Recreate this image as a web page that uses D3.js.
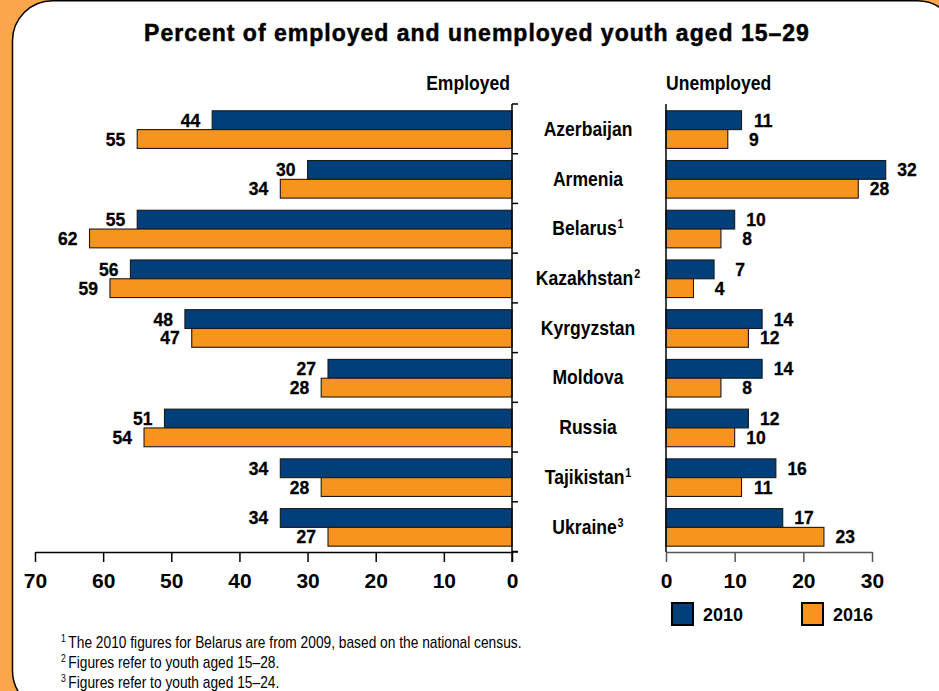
<!DOCTYPE html>
<html>
<head>
<meta charset="utf-8">
<script src="https://cdn.jsdelivr.net/npm/d3@7"></script>
<style>
  html, body { margin: 0; padding: 0; background: #f9a64c; }
  svg { display: block; }
  text { font-family: "Liberation Sans", Arial, Helvetica, sans-serif; fill: #000; }
</style>
</head>
<body>
<svg id="chart" width="939" height="691"></svg>
<script>
// ---------- data ----------
const categories = ["Azerbaijan","Armenia","Belarus","Kazakhstan","Kyrgyzstan","Moldova","Russia","Tajikistan","Ukraine"];
const footMarks = ["","","1","2","","","","1","3"];
const years = ["2010","2016"];
const employed2010 = [44,30,55,56,48,27,51,34,34];
const employed2016 = [55,34,62,59,47,28,54,28,27];
const unemployed2010 = [11,32,10,7,14,14,12,16,17];
const unemployed2016 = [9,28,8,4,12,8,10,11,23];
const leftTicks = [0,10,20,30,40,50,60,70];
const rightTicks = [0,10,20,30];
const titleText = "Percent of employed and unemployed youth aged 15\u201329";
const footnotes = [
  ["1","The 2010 figures for Belarus are from 2009, based on the national census."],
  ["2","Figures refer to youth aged 15\u201328."],
  ["3","Figures refer to youth aged 15\u201324."]
];

const colors = {"2010": "#003f7a", "2016": "#f7941e"};

const svg = d3.select("#chart");

// ---------- panel ----------
svg.append("rect")
  .attr("x", 12.5).attr("y", 0.8)
  .attr("width", 945).attr("height", 710)
  .attr("rx", 40).attr("ry", 40)
  .attr("fill", "#fff").attr("stroke", "#000").attr("stroke-width", 1.5);

// ---------- title ----------
svg.append("text")
  .attr("x", 477).attr("y", 41)
  .attr("text-anchor", "middle")
  .style("font-size", "23px").style("font-weight", "bold")
  .style("letter-spacing", "1px")
  .attr("stroke", "#000").attr("stroke-width", 0.5)
  .text(titleText);

// ---------- scales ----------
const y0 = d3.scaleBand().domain(categories).range([104, 551.5]).padding(0);
const y1 = d3.scaleBand().domain(years).range([6.8, 44.4]).padding(0);
const xL = d3.scaleLinear().domain([0, 70]).range([512, 35]);
const xR = d3.scaleLinear().domain([0, 30]).range([666, 872]);

const rows = categories.map((c, i) => ({
  cat: c, mark: footMarks[i],
  emp: [{year: "2010", v: employed2010[i]}, {year: "2016", v: employed2016[i]}],
  unemp: [{year: "2010", v: unemployed2010[i]}, {year: "2016", v: unemployed2016[i]}]
}));

// ---------- headers ----------
function condensed(g, x, y, sx) {
  return g.append("g").attr("transform", `translate(${x},${y}) scale(${sx},1)`);
}
condensed(svg, 510, 90, 0.9).append("text")
  .attr("text-anchor", "end").style("font-size", "19.5px").style("font-weight", "bold")
  .text("Employed");
condensed(svg, 666, 90, 0.9).append("text")
  .attr("text-anchor", "start").style("font-size", "19.5px").style("font-weight", "bold")
  .text("Unemployed");

// ---------- left (employed) bars ----------
const gL = svg.append("g");
const rowL = gL.selectAll("g.row").data(rows).join("g")
  .attr("transform", d => `translate(0,${y0(d.cat)})`);
rowL.selectAll("rect").data(d => d.emp).join("rect")
  .attr("x", d => xL(d.v)).attr("y", d => y1(d.year))
  .attr("width", d => xL(0) - xL(d.v)).attr("height", y1.bandwidth())
  .attr("fill", d => colors[d.year]).attr("stroke", "#1a1a1a").attr("stroke-width", 1.1);
rowL.selectAll("text").data(d => d.emp).join("text")
  .attr("x", d => xL(d.v) - 12)
  .attr("y", d => y1(d.year) + y1.bandwidth() / 2 + 6.5)
  .attr("text-anchor", "end")
  .style("font-size", "17.5px").style("font-weight", "bold")
  .attr("stroke", "#000").attr("stroke-width", 0.3)
  .text(d => d.v);

// ---------- right (unemployed) bars ----------
const gR = svg.append("g");
const rowR = gR.selectAll("g.row").data(rows).join("g")
  .attr("transform", d => `translate(0,${y0(d.cat)})`);
rowR.selectAll("rect").data(d => d.unemp).join("rect")
  .attr("x", xR(0)).attr("y", d => y1(d.year))
  .attr("width", d => xR(d.v) - xR(0)).attr("height", y1.bandwidth())
  .attr("fill", d => colors[d.year]).attr("stroke", "#1a1a1a").attr("stroke-width", 1.1);
rowR.selectAll("text").data(d => d.unemp).join("text")
  .attr("x", d => xR(d.v) + 31)
  .attr("y", d => y1(d.year) + y1.bandwidth() / 2 + 6.5)
  .attr("text-anchor", "end")
  .style("font-size", "17.5px").style("font-weight", "bold")
  .attr("stroke", "#000").attr("stroke-width", 0.3)
  .text(d => d.v);

// ---------- category labels ----------
rows.forEach(d => {
  const t = condensed(svg, 588, y0(d.cat) + y0.bandwidth() / 2 + 7, 0.9).append("text")
    .attr("text-anchor", "middle").style("font-size", "19.5px").style("font-weight", "bold");
  t.append("tspan").text(d.cat);
  if (d.mark) t.append("tspan").attr("dy", -7).attr("dx", 1).style("font-size", "12px").text(d.mark);
});

// ---------- axes ----------
const axisY = 552;
const axL = svg.append("g").attr("transform", `translate(0,${axisY})`)
  .call(d3.axisBottom(xL).tickValues(leftTicks).tickSize(10).tickSizeOuter(0).tickPadding(11).tickFormat(d3.format("d")));
axL.select(".domain").attr("stroke", "#000").attr("stroke-width", 1.5);
axL.selectAll(".tick line").attr("stroke", "#000").attr("stroke-width", 1.5);
axL.selectAll(".tick text").style("font-size", "21px").style("font-weight", "bold").attr("fill", "#000")
  .style("font-family", "'Liberation Sans', Arial, sans-serif");
// extension of baseline past zero + vertical category axis
svg.append("line").attr("x1", xL(0)).attr("x2", xL(0) + 6).attr("y1", axisY).attr("y2", axisY)
  .attr("stroke", "#000").attr("stroke-width", 1.5);
svg.append("line").attr("x1", xL(0)).attr("x2", xL(0)).attr("y1", y0.range()[0]).attr("y2", axisY + 10)
  .attr("stroke", "#000").attr("stroke-width", 1.5);
const sepYs = categories.map(c => y0(c)).concat([y0.range()[1]]);
svg.selectAll("line.sep").data(sepYs).join("line").attr("class", "sep")
  .attr("x1", xL(0)).attr("x2", xL(0) + 6).attr("y1", d => d).attr("y2", d => d)
  .attr("stroke", "#000").attr("stroke-width", 1.5);

const axR = svg.append("g").attr("transform", `translate(0,${axisY})`)
  .call(d3.axisBottom(xR).tickValues(rightTicks).tickSize(10).tickSizeOuter(0).tickPadding(11).tickFormat(d3.format("d")));
axR.select(".domain").attr("stroke", "#555").attr("stroke-width", 1.5);
axR.selectAll(".tick line").attr("stroke", "#555").attr("stroke-width", 1.5);
axR.selectAll(".tick text").style("font-size", "21px").style("font-weight", "bold").attr("fill", "#000")
  .style("font-family", "'Liberation Sans', Arial, sans-serif");
svg.append("line").attr("x1", xR(0)).attr("x2", xR(0)).attr("y1", y0.range()[0]).attr("y2", axisY)
  .attr("stroke", "#000").attr("stroke-width", 1.5);

// ---------- legend ----------
const legend = svg.append("g").attr("transform", "translate(672,603)");
const lg = legend.selectAll("g").data(years).join("g")
  .attr("transform", (d, i) => `translate(${i * 130},0)`);
lg.append("rect").attr("width", 21).attr("height", 22)
  .attr("fill", d => colors[d]).attr("stroke", "#000").attr("stroke-width", 2);
lg.append("text").attr("x", 31).attr("y", 18)
  .style("font-size", "18px").style("font-weight", "bold").text(d => d);

// ---------- footnotes ----------
footnotes.forEach((f, i) => {
  const t = condensed(svg, 61, 648 + i * 20, 0.86).append("text").style("font-size", "16px");
  t.append("tspan").attr("dy", -6).style("font-size", "10px").text(f[0]);
  t.append("tspan").attr("dy", 6).attr("dx", 3).text(f[1]);
});
</script>
</body>
</html>
